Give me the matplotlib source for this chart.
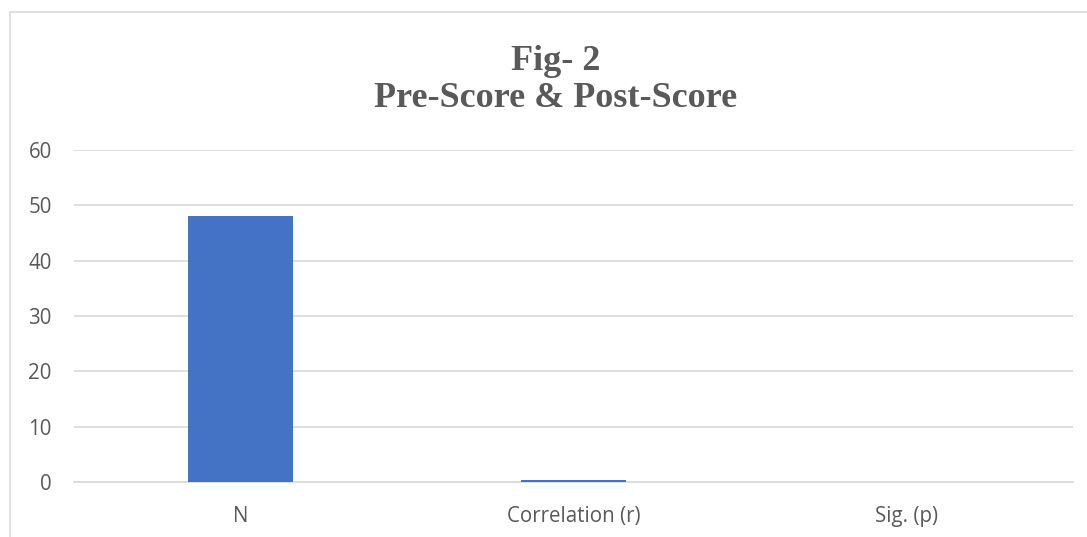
import matplotlib.pyplot as plt
from matplotlib.patches import Rectangle

categories = ['N', 'Correlation (r)', 'Sig. (p)']
values = [48, 0.35, 0.0]
yticks = [0, 10, 20, 30, 40, 50, 60]

W, H = 1087, 537
fig = plt.figure(figsize=(W / 100, H / 100), dpi=100)

# outer chart border (cut off at right / bottom in the reference)
fig.patches.append(Rectangle((10 / W, -0.1), 1.2, 1 - 12 / H + 0.1, transform=fig.transFigure,
                             fill=False, edgecolor='#d9d9d9', linewidth=1.2))

ax = fig.add_axes([74 / W, (H - 482) / H, (1073 - 74) / W, (482 - 150) / H])
ax.bar(range(len(categories)), values, width=0.313, color='#4472c4', zorder=3)

ax.set_xlim(-0.5, 2.5)
ax.set_ylim(0, 60)
ax.set_yticks(yticks)
ax.set_xticks(range(len(categories)))
ax.set_xticklabels(categories)
ax.grid(axis='y', color='#d9d9d9', linewidth=1.2, zorder=0)
for s in ax.spines.values():
    s.set_visible(False)
ax.spines['bottom'].set_visible(True)
ax.spines['bottom'].set_color('#d9d9d9')
ax.spines['bottom'].set_linewidth(1.2)
ax.tick_params(length=0, labelsize=14.8, labelcolor='#595959', pad=17)
ax.tick_params(axis='y', pad=16)
for lbl in ax.get_xticklabels() + ax.get_yticklabels():
    lbl.set_fontfamily('Open Sans')

fig.text(556 / W, 1 - 80 / H, 'Fig- 2\nPre-Score & Post-Score', ha='center', va='center',
         fontsize=26, fontweight='bold', color='#595959', family='Liberation Serif',
         linespacing=1.15)

fig.savefig('out.png', dpi=100)
